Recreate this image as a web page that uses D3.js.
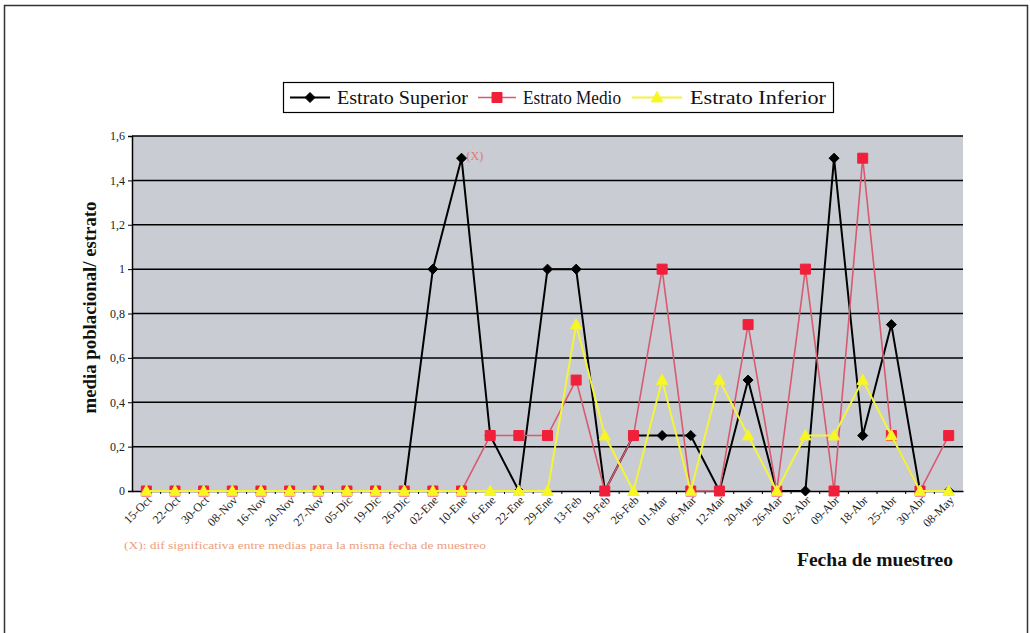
<!DOCTYPE html>
<html>
<head>
<meta charset="utf-8">
<script src="https://cdn.jsdelivr.net/npm/d3@7"></script>
<style>
  html, body { margin: 0; padding: 0; background: #fff; }
  svg { display: block; }
</style>
</head>
<body>
<svg id="chart" width="1030" height="633"></svg>
<script>
// Sampling dates
const fechas = ["15-Oct","22-Oct","30-Oct","08-Nov","16-Nov","20-Nov","27-Nov","05-Dic","19-Dic","26-Dic",
  "02-Ene","10-Ene","16-Ene","22-Ene","29-Ene","13-Feb","19-Feb","26-Feb","01-Mar","06-Mar",
  "12-Mar","20-Mar","26-Mar","02-Abr","09-Abr","18-Abr","25-Abr","30-Abr","08-May"];

// Population mean per stratum
const estratoSuperior = [0,0,0,0,0,0,0,0,0,0, 1,1.5,0.25,0,1,1,0,0.25,0.25,0.25, 0,0.5,0,0,1.5,0.25,0.75,0,0];
const estratoMedio    = [0,0,0,0,0,0,0,0,0,0, 0,0,0.25,0.25,0.25,0.5,0,0.25,1,0, 0,0.75,0,1,0,1.5,0.25,0,0.25];
const estratoInferior = [0,0,0,0,0,0,0,0,0,0, 0,0,0,0,0,0.75,0.25,0,0.5,0, 0.5,0.25,0,0.25,0.25,0.5,0.25,0,0];

const yTicks = [0,0.2,0.4,0.6,0.8,1,1.2,1.4,1.6];

// Index of the date with a significant difference between means
const marcaSignificativa = 11;

const SERIF = "'Liberation Serif', 'Times New Roman', serif";

const series = [
  { name: "Estrato Superior", values: estratoSuperior, line: "#000000", lw: 2, fill: "#000000", marker: "diamond" },
  { name: "Estrato Medio",    values: estratoMedio,    line: "#d85a70", lw: 1.6, fill: "#f0203a", marker: "square" },
  { name: "Estrato Inferior", values: estratoInferior, line: "#f4f43a", lw: 2, fill: "#f8f820", marker: "triangle" }
];

const svg = d3.select("#chart").style("font-family", SERIF);

// Outer frame
svg.append("path")
  .attr("d", "M4.5,640 V5.5 H1027.5 V640")
  .attr("fill", "none").attr("stroke", "#333").attr("stroke-width", 1.5);

const plot = { left: 132, right: 963, top: 136, bottom: 491 };

const x = d3.scaleBand().domain(fechas).range([plot.left, plot.right]).padding(0);
const y = d3.scaleLinear().domain([0, 1.6]).range([plot.bottom, plot.top]);
const cx = d => x(d) + x.bandwidth() / 2;

// Plot background
svg.append("rect")
  .attr("x", plot.left).attr("y", plot.top)
  .attr("width", plot.right - plot.left).attr("height", plot.bottom - plot.top)
  .attr("fill", "#c9ccd2");

// Horizontal grid lines
svg.append("g").selectAll("line").data(yTicks.filter(t => t > 0)).join("line")
  .attr("x1", plot.left).attr("x2", plot.right)
  .attr("y1", d => y(d)).attr("y2", d => y(d))
  .attr("stroke", "#000").attr("stroke-width", 1.5);

// Y axis
const fmt = d => String(d).replace(".", ",");
const yAxis = svg.append("g")
  .attr("transform", `translate(${plot.left},0)`)
  .call(d3.axisLeft(y).tickValues(yTicks).tickFormat(fmt).tickSizeOuter(0).tickSize(4).tickPadding(3));
yAxis.attr("font-family", null);
yAxis.select(".domain").attr("stroke", "#000").attr("stroke-width", 1.5);
yAxis.selectAll(".tick line").attr("stroke", "#000");
yAxis.selectAll("text").attr("font-size", 12).style("font-family", SERIF).attr("fill", "#222");

// X axis
const xAxis = svg.append("g")
  .attr("transform", `translate(0,${plot.bottom})`)
  .call(d3.axisBottom(x).tickSize(0).tickFormat(d => d));
xAxis.attr("font-family", null);
xAxis.select(".domain").attr("stroke", "#000").attr("stroke-width", 1.5);
xAxis.selectAll(".tick text")
  .attr("font-size", 12).style("font-family", SERIF).attr("fill", "#222")
  .attr("text-anchor", "end")
  .attr("dy", 0).attr("y", 0)
  .attr("transform", "translate(6,10) rotate(-45)");
// Tick marks between categories
svg.append("g").selectAll("line").data(fechas.slice(1)).join("line")
  .attr("x1", d => x(d)).attr("x2", d => x(d))
  .attr("y1", plot.bottom).attr("y2", plot.bottom + 3)
  .attr("stroke", "#000").attr("stroke-width", 1);

// Marker shapes
function markerPath(type, s) {
  if (type === "diamond") return `M0,${-s}L${s},0L0,${s}L${-s},0Z`;
  if (type === "square") return `M${-s},${-s}H${s}V${s}H${-s}Z`;
  return `M0,${-s * 1.1}L${s * 1.05},${s * 0.8}H${-s * 1.05}Z`;
}
const markerSize = { diamond: 5, square: 5, triangle: 5.5 };

const line = d3.line().x((d, i) => cx(fechas[i])).y(d => y(d));

series.forEach(s => {
  const g = svg.append("g");
  g.append("path")
    .attr("d", line(s.values))
    .attr("fill", "none").attr("stroke", s.line).attr("stroke-width", s.lw)
    .attr("stroke-linejoin", "miter");
  g.selectAll("path.m").data(s.values).join("path")
    .attr("class", "m")
    .attr("transform", (d, i) => `translate(${cx(fechas[i])},${y(d)})`)
    .attr("d", markerPath(s.marker, markerSize[s.marker]))
    .attr("fill", s.fill)
    .attr("stroke", s.marker === "triangle" ? "#f0f040" : s.fill)
    .attr("stroke-width", 1);
});

// Significance mark
svg.append("text")
  .attr("x", cx(fechas[marcaSignificativa]) + 5)
  .attr("y", y(estratoSuperior[marcaSignificativa]) + 2)
  .style("font-family", SERIF)
  .attr("font-size", 12).attr("fill", "#e07a70")
  .text("(X)");

// Axis titles
svg.append("text")
  .attr("transform", `translate(96,${(plot.top + plot.bottom) / 2 - 6}) rotate(-90)`)
  .attr("text-anchor", "middle")
  .style("font-family", SERIF)
  .attr("font-size", 18).attr("font-weight", "bold").attr("fill", "#111")
  .attr("textLength", 212).attr("lengthAdjust", "spacingAndGlyphs")
  .text("media poblacional/ estrato");

svg.append("text")
  .attr("x", 875).attr("y", 566)
  .attr("text-anchor", "middle")
  .style("font-family", SERIF)
  .attr("font-size", 18).attr("font-weight", "bold").attr("fill", "#111")
  .attr("textLength", 156).attr("lengthAdjust", "spacingAndGlyphs")
  .text("Fecha de muestreo");

// Footnote
svg.append("text")
  .attr("x", 124).attr("y", 549)
  .style("font-family", SERIF)
  .attr("font-size", 11).attr("fill", "#eda07e")
  .attr("textLength", 362).attr("lengthAdjust", "spacingAndGlyphs")
  .text("(X): dif  significativa entre medias para la misma fecha de muestreo");

// Legend
const legend = svg.append("g");
legend.append("rect")
  .attr("x", 283.5).attr("y", 82.5).attr("width", 550).attr("height", 30)
  .attr("fill", "#fff").attr("stroke", "#000").attr("stroke-width", 1.2);
const legendItems = [
  { x1: 290, x2: 330, tx: 337, tw: 131 },
  { x1: 478, x2: 516, tx: 523, tw: 98 },
  { x1: 632, x2: 682, tx: 690, tw: 136 }
];
series.forEach((s, i) => {
  const it = legendItems[i];
  const ly = 97.5;
  legend.append("line")
    .attr("x1", it.x1).attr("x2", it.x2).attr("y1", ly).attr("y2", ly)
    .attr("stroke", s.line).attr("stroke-width", s.lw);
  legend.append("path")
    .attr("transform", `translate(${(it.x1 + it.x2) / 2},${ly})`)
    .attr("d", markerPath(s.marker, markerSize[s.marker]))
    .attr("fill", s.fill).attr("stroke", s.fill);
  legend.append("text")
    .attr("x", it.tx).attr("y", ly + 6)
    .style("font-family", SERIF)
    .attr("font-size", 18).attr("fill", "#111")
    .attr("textLength", it.tw).attr("lengthAdjust", "spacingAndGlyphs")
    .text(s.name);
});
</script>
</body>
</html>
